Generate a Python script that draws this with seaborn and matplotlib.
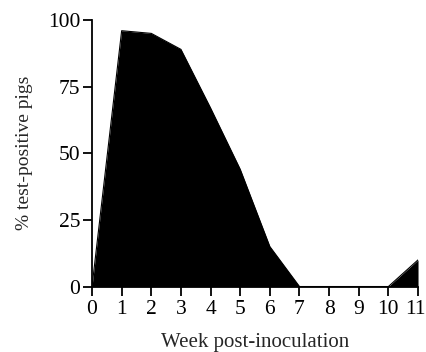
import matplotlib
matplotlib.use("Agg")
import matplotlib.pyplot as plt
import matplotlib.transforms as mtransforms
import seaborn as sns
import pandas as pd

weeks = [0, 1, 2, 3, 4, 5, 6, 7, 8, 9, 10, 11]
pct_positive = [0, 96, 95, 89, 67, 44, 15, 0, 0, 0, 0, 10]

df = pd.DataFrame({"week": weeks, "pct": pct_positive})

sns.set_style("ticks")
plt.rcParams["font.family"] = ["Liberation Serif", "DejaVu Serif"]

fig = plt.figure(figsize=(4.27, 3.52), dpi=100)
ax = fig.add_axes([0.2155, 0.186, 0.7635, 0.757])

sns.lineplot(data=df, x="week", y="pct", color="black", linewidth=0.8, ax=ax)
ax.fill_between(df["week"], df["pct"], 0, color="black", linewidth=0)

ax.set_xlim(0, 11)
ax.set_ylim(0, 100)
ax.set_xticks(weeks)
ax.set_yticks([0, 25, 50, 75, 100])
ax.tick_params(axis="both", labelsize=15.5, length=6.5, width=1.3, direction="out",
               color="black", labelcolor="black")
ax.tick_params(axis="y", pad=2)
ax.tick_params(axis="x", pad=3)
for side in ("left", "bottom"):
    ax.spines[side].set_linewidth(1.3)
    ax.spines[side].set_color("black")
sns.despine(ax=ax)
ax.set_xlabel("Week post-inoculation", fontsize=15, labelpad=10)
ax.set_ylabel("% test-positive pigs", fontsize=14, labelpad=11)
for sp in ax.spines.values():
    sp.set_clip_on(False)

# nudge the last week label inward so it stays inside the figure
last = ax.get_xticklabels()[-1]
last.set_transform(last.get_transform() +
                   mtransforms.ScaledTranslation(-3 / 100, 0, fig.dpi_scale_trans))

fig.savefig("out.png", dpi=100)
